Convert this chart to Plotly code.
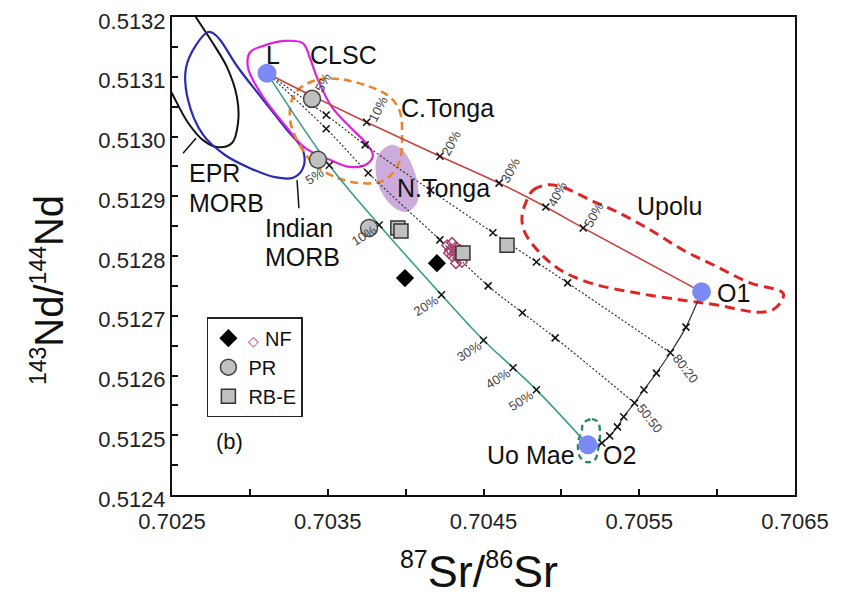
import plotly.graph_objects as go

# ---------------- axis ticks ----------------
x_tick_vals = [0.7025, 0.7035, 0.7045, 0.7055, 0.7065]
x_tick_text = ["0.7025", "0.7035", "0.7045", "0.7055", "0.7065"]
x_minor_vals = [0.7030, 0.7040, 0.7050, 0.7060]
y_tick_vals = [0.5124, 0.5125, 0.5126, 0.5127, 0.5128, 0.5129, 0.5130, 0.5131, 0.5132]
y_tick_text = ["0.5124", "0.5125", "0.5126", "0.5127", "0.5128", "0.5129", "0.5130", "0.5131", "0.5132"]
y_minor_vals = [0.51245, 0.51255, 0.51265, 0.51275, 0.51285, 0.51295, 0.51305, 0.51315]

# ---------------- end members ----------------
end_names = ["L", "O1", "O2"]
end_x = [0.70311, 0.70590, 0.70517]
end_y = [0.513106, 0.512740, 0.512484]

# ---------------- mixing curves (L -> ..., ticks at 5,10,20,30,40,50 %) ----------------
pct_labels = ["5%", "10%", "20%", "30%", "40%", "50%"]
red_x = [0.70311, 0.70340, 0.70375, 0.70422, 0.70460, 0.70490, 0.70514, 0.70590]
red_y = [0.513106, 0.513068, 0.513024, 0.512967, 0.512922, 0.512882, 0.512847, 0.512740]
teal_x = [0.70311, 0.70351, 0.70383, 0.70423, 0.70450, 0.70469, 0.70484, 0.70517]
teal_y = [0.513106, 0.512952, 0.512852, 0.512735, 0.512659, 0.512613, 0.512576, 0.512484]
lineA_x = [0.70311, 0.70349, 0.70374, 0.70416, 0.70456, 0.70484, 0.70504, 0.70570]
lineA_y = [0.513106, 0.513036, 0.512986, 0.512910, 0.512839, 0.512790, 0.512755, 0.512638]
lineB_x = [0.70311, 0.70349, 0.70376, 0.70422, 0.70453, 0.70475, 0.70496, 0.70547]
lineB_y = [0.513106, 0.513013, 0.512939, 0.512827, 0.512750, 0.512705, 0.512663, 0.512554]
# O1 - O2 mixing (ticks every 10 %)
o1o2_x = [0.70590, 0.70580, 0.70570, 0.70561, 0.70553, 0.70547, 0.70540, 0.70536, 0.70531, 0.70526, 0.70517]
o1o2_y = [0.512740, 0.512681, 0.512638, 0.512604, 0.512576, 0.512554, 0.512531, 0.512514, 0.512499, 0.512487, 0.512484]
ratio_labels = ["80:20", "50:50"]
ratio_index = [2, 5]

# ---------------- samples ----------------
nf_x = [0.704201, 0.703996]
nf_y = [0.512788, 0.512763]
nf_open_x = [0.704266, 0.704298, 0.704323, 0.704285, 0.704317, 0.704349, 0.704298, 0.704336, 0.704362, 0.704323, 0.704362, 0.704278]
nf_open_y = [0.512818, 0.512822, 0.512815, 0.512810, 0.512807, 0.512810, 0.512800, 0.512797, 0.512790, 0.512788, 0.512802, 0.512805]
pr_x = [0.703399, 0.703437, 0.703765]
pr_y = [0.513063, 0.512961, 0.512847]
rbe_x = [0.703950, 0.703970, 0.704368, 0.704651]
rbe_y = [0.512847, 0.512842, 0.512805, 0.512818]

# ---------------- field outlines ----------------
epr_x = [0.702660, 0.702763, 0.702853, 0.702917, 0.702924, 0.702885, 0.702795, 0.702699, 0.702603, 0.702506, 0.702423, 0.702359, 0.702423, 0.702583, 0.702660]
epr_y = [0.513197, 0.513156, 0.513116, 0.513066, 0.513023, 0.512989, 0.512982, 0.512994, 0.513023, 0.513069, 0.513111, 0.513162, 0.513203, 0.513228, 0.513197]
indian_x = [0.702731, 0.702654, 0.702590, 0.702603, 0.702699, 0.702840, 0.703001, 0.703161, 0.703277, 0.703341, 0.703341, 0.703238, 0.703065, 0.702917, 0.702808, 0.702763, 0.702731]
indian_y = [0.513175, 0.513153, 0.513115, 0.513061, 0.513003, 0.512969, 0.512947, 0.512932, 0.512931, 0.512947, 0.512977, 0.513011, 0.513068, 0.513118, 0.513162, 0.513173, 0.513175]
clsc_x = [0.703078, 0.703225, 0.703341, 0.703386, 0.703437, 0.703527, 0.703643, 0.703745, 0.703790, 0.703752, 0.703643, 0.703514, 0.703354, 0.703225, 0.703078, 0.702988, 0.703001, 0.703078]
clsc_y = [0.513151, 0.513160, 0.513156, 0.513131, 0.513095, 0.513049, 0.513016, 0.512989, 0.512969, 0.512954, 0.512949, 0.512961, 0.512981, 0.513019, 0.513069, 0.513115, 0.513141, 0.513151]
ctonga_x = [0.703322, 0.703437, 0.703579, 0.703752, 0.703900, 0.703964, 0.703977, 0.703964, 0.703912, 0.703835, 0.703707, 0.703559, 0.703418, 0.703309, 0.703258, 0.703270, 0.703322]
ctonga_y = [0.513081, 0.513095, 0.513096, 0.513085, 0.513066, 0.513041, 0.513003, 0.512961, 0.512937, 0.512924, 0.512922, 0.512931, 0.512952, 0.512991, 0.513028, 0.513061, 0.513081]
ntonga_x = [0.703912, 0.703983, 0.704041, 0.704079, 0.704073, 0.704009, 0.703932, 0.703855, 0.703810, 0.703823, 0.703912]
ntonga_y = [0.512986, 0.512977, 0.512952, 0.512919, 0.512889, 0.512874, 0.512880, 0.512902, 0.512936, 0.512969, 0.512986]
upolu_x = [0.704779, 0.704818, 0.704908, 0.705010, 0.705184, 0.705357, 0.705569, 0.705781, 0.705999, 0.706211, 0.706423, 0.706416, 0.706358, 0.706256, 0.705999, 0.705781, 0.705485, 0.705184, 0.704991, 0.704863, 0.704766, 0.704747, 0.704779]
upolu_y = [0.512894, 0.512910, 0.512919, 0.512915, 0.512894, 0.512874, 0.512844, 0.512810, 0.512782, 0.512755, 0.512738, 0.512726, 0.512710, 0.512706, 0.512718, 0.512726, 0.512738, 0.512755, 0.512777, 0.512805, 0.512839, 0.512865, 0.512894]
uomae_x = [0.705139, 0.705196, 0.705235, 0.705248, 0.705235, 0.705216, 0.705164, 0.705119, 0.705107, 0.705132, 0.705139]
uomae_y = [0.512520, 0.512527, 0.512522, 0.512504, 0.512476, 0.512459, 0.512455, 0.512464, 0.512487, 0.512509, 0.512520]
# leader lines from labels to fields
epr_lead_x = [0.702571, 0.702654]
epr_lead_y = [0.512972, 0.512997]
ind_lead_x = [0.703303, 0.703315]
ind_lead_y = [0.512927, 0.512880]

FONT = "Arial, Liberation Sans, sans-serif"
fig = go.Figure()


def outline(xs, ys, color, width, dash=None):
    fig.add_trace(go.Scatter(x=xs, y=ys, mode="lines", line=dict(color=color, width=width, dash=dash, shape="spline", smoothing=1.0),
                             showlegend=False, hoverinfo="skip"))


# N. Tonga filled field
fig.add_trace(go.Scatter(x=ntonga_x, y=ntonga_y, mode="lines", fill="toself", fillcolor="rgba(196,156,214,0.85)",
                         line=dict(width=0, shape="spline"), showlegend=False, hoverinfo="skip"))
outline(epr_x, epr_y, "#111111", 2)
outline(indian_x, indian_y, "#2a2ab4", 2.2)
outline(clsc_x, clsc_y, "#dd22dd", 2.2)
outline(ctonga_x, ctonga_y, "#e8862c", 2.6, "8px,5px")
outline(upolu_x, upolu_y, "#e02424", 3, "10px,6px")
outline(uomae_x, uomae_y, "#2a8a66", 2.4, "6px,4px")
fig.add_trace(go.Scatter(x=epr_lead_x, y=epr_lead_y, mode="lines", line=dict(color="#111", width=1.5), showlegend=False))
fig.add_trace(go.Scatter(x=ind_lead_x, y=ind_lead_y, mode="lines", line=dict(color="#111", width=1.5), showlegend=False))

# mixing curves
fig.add_trace(go.Scatter(x=lineA_x, y=lineA_y, mode="lines", line=dict(color="#333", width=1.2, dash="2px,2px", shape="spline"), showlegend=False))
fig.add_trace(go.Scatter(x=lineB_x, y=lineB_y, mode="lines", line=dict(color="#333", width=1.2, dash="2px,2px", shape="spline"), showlegend=False))
fig.add_trace(go.Scatter(x=red_x, y=red_y, mode="lines", line=dict(color="#c8423e", width=1.6, shape="spline"), showlegend=False))
fig.add_trace(go.Scatter(x=teal_x, y=teal_y, mode="lines", line=dict(color="#3a9d8f", width=1.6, shape="spline"), showlegend=False))
fig.add_trace(go.Scatter(x=o1o2_x, y=o1o2_y, mode="lines", line=dict(color="#333", width=1.2, shape="spline"), showlegend=False))

tick_marker = dict(symbol="x-thin", size=7, line=dict(color="#111", width=1.5), color="#111")
for xs, ys in [(red_x, red_y), (teal_x, teal_y), (lineA_x, lineA_y), (lineB_x, lineB_y)]:
    fig.add_trace(go.Scatter(x=xs[1:-1], y=ys[1:-1], mode="markers", marker=tick_marker, showlegend=False, hoverinfo="skip"))
fig.add_trace(go.Scatter(x=o1o2_x[1:-1], y=o1o2_y[1:-1], mode="markers", marker=tick_marker, showlegend=False, hoverinfo="skip"))

# samples
fig.add_trace(go.Scatter(x=nf_open_x, y=nf_open_y, mode="markers", showlegend=False,
                         marker=dict(symbol="diamond-open", size=8, color="#a8406e", line=dict(color="#a8406e", width=1.5))))
fig.add_trace(go.Scatter(x=nf_x, y=nf_y, mode="markers", name='<span style="color:#a8406e;font-size:14px">◇</span> NF',
                         marker=dict(symbol="diamond", size=14, color="#000")))
fig.add_trace(go.Scatter(x=pr_x, y=pr_y, mode="markers", name="PR",
                         marker=dict(symbol="circle", size=17, color="#c0c0c0", line=dict(color="#444", width=1.5))))
fig.add_trace(go.Scatter(x=rbe_x, y=rbe_y, mode="markers", name="RB-E",
                         marker=dict(symbol="square", size=14, color="#c0c0c0", line=dict(color="#333", width=1.5))))
# end members
fig.add_trace(go.Scatter(x=end_x, y=end_y, mode="markers", showlegend=False,
                         marker=dict(symbol="circle", size=19, color="#7b8af5")))

ann = []
txt_font = dict(family=FONT, size=25, color="#111")
small_font = dict(family=FONT, size=13, color="#444")
# percent labels
for i, lab in enumerate(pct_labels):
    ann.append(dict(x=red_x[i + 1], y=red_y[i + 1], text=lab, showarrow=False, textangle=-62,
                    xshift=11, yshift=13, font=small_font))
    ann.append(dict(x=teal_x[i + 1], y=teal_y[i + 1], text=lab, showarrow=False, textangle=-32,
                    xshift=-15, yshift=-11, font=small_font))
for lab, idx in zip(ratio_labels, ratio_index):
    ann.append(dict(x=o1o2_x[idx], y=o1o2_y[idx], text=lab, showarrow=False, textangle=52,
                    xshift=15, yshift=-16, font=small_font))
# field / end-member labels
labels = [
    ("L", 0.703148, 0.513136, "center"),
    ("CLSC", 0.703604, 0.513136, "center"),
    ("C.Tonga", 0.704272, 0.513048, "center"),
    ("N.Tonga", 0.704240, 0.512914, "center"),
    ("Upolu", 0.705697, 0.512884, "center"),
    ("O1", 0.706108, 0.512738, "center"),
    ("O2", 0.705370, 0.512467, "center"),
    ("Uo Mae", 0.704805, 0.512467, "center"),
    ("EPR", 0.702596, 0.512939, "left"),
    ("MORB", 0.702596, 0.512889, "left"),
    ("Indian", 0.703084, 0.512847, "left"),
    ("MORB", 0.703084, 0.512798, "left"),
]
for t, x, y, xa in labels:
    ann.append(dict(x=x, y=y, text=t, showarrow=False, xanchor=xa, font=txt_font))
ann.append(dict(x=0.702872, y=0.512489, text="(b)", showarrow=False, font=dict(family=FONT, size=22, color="#111")))

# axis titles (large main text with small superscripts)
SUP = '<sup><span style="font-size:{}px">{}</span></sup>'
ann.append(dict(xref="paper", yref="paper", x=-0.199, y=0.429, xanchor="center", yanchor="middle",
                showarrow=False, textangle=-90, width=300, height=70, valign="middle",
                text=SUP.format(23, "143") + "Nd/" + SUP.format(23, "144") + "Nd",
                font=dict(family=FONT, size=40, color="#111")))
ann.append(dict(xref="paper", yref="paper", x=0.493, y=-0.158, xanchor="center", yanchor="middle",
                showarrow=False, width=260, height=64, valign="middle",
                text=SUP.format(25, "87") + "Sr/" + SUP.format(25, "86") + "Sr",
                font=dict(family=FONT, size=45, color="#111")))

axis_common = dict(ticks="inside", ticklen=6, tickwidth=1.5, tickcolor="#111", showline=True, linecolor="#111",
                   linewidth=2, mirror=True, showgrid=False, zeroline=False, automargin=False,
                   ticklabeloverflow="allow",
                   tickfont=dict(family=FONT, size=22, color="#222"))
minor_common = dict(ticks="inside", ticklen=6, tickwidth=1.5, tickcolor="#111", showgrid=False)

# the page body adds an 8 px offset, so the figure is 8 px smaller and shifted margins compensate
fig.update_layout(
    width=833, height=592,
    margin=dict(l=164, r=46, t=9, b=105),
    plot_bgcolor="white", paper_bgcolor="white",
    font=dict(family=FONT, color="#111"),
    annotations=ann,
    legend=dict(x=0.056, y=0.372, xanchor="left", yanchor="top", bgcolor="white",
                bordercolor="#222", borderwidth=1.5, font=dict(family=FONT, size=20, color="#111"),
                itemwidth=30, tracegroupgap=0),
    xaxis=dict(range=[0.7025, 0.7065], tickvals=x_tick_vals, ticktext=x_tick_text, ticklabelstandoff=6,
               minor=dict(tickvals=x_minor_vals, **minor_common), **axis_common),
    yaxis=dict(range=[0.5124, 0.5132], tickvals=y_tick_vals, ticktext=y_tick_text, ticklabelshift=4,
               minor=dict(tickvals=y_minor_vals, **minor_common), **axis_common),
)

fig.write_html("out.html")
